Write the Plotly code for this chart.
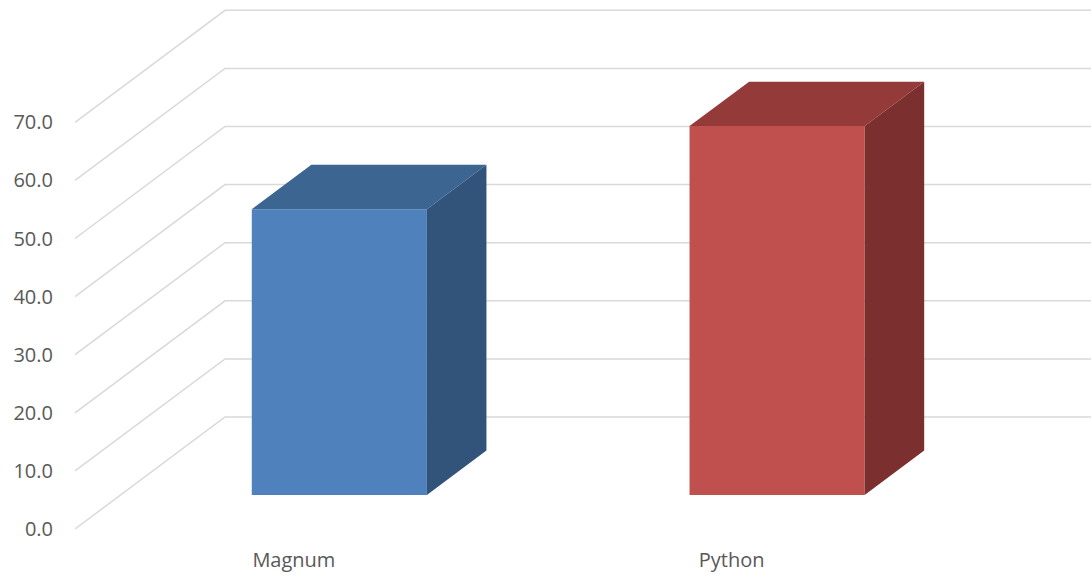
import plotly.graph_objects as go

# Data
categories = ["Magnum", "Python"]
values = [49.2, 63.5]
y_ticks = [0, 10, 20, 30, 40, 50, 60, 70]

# Styling
front_colors = ["#4F81BD", "#C0504D"]
top_colors = ["#3D6591", "#943B39"]
side_colors = ["#32537A", "#7B302F"]
grid_color = "#D9D9D9"
text_color = "#595959"

# Oblique 3-D projection: full floor depth shifts x by DEPTH_X (category units)
# and y by DEPTH_Y (value units).
DEPTH_X = 0.3427
DEPTH_Y = 19.28
BAR_FRONT = 0.303   # depth fraction of bar front face
BAR_BACK = 0.70     # depth fraction of bar back face
BAR_HALF = 0.2      # half bar width (gap width 150%)
X_FAR = 3.0         # back-wall lines run off the right edge


def proj(x, y, d):
    return x + d * DEPTH_X, y + d * DEPTH_Y


fig = go.Figure()

# Side wall + back wall gridlines
for v in y_ticks:
    p0 = proj(-0.5, v, 0)
    p1 = proj(-0.5, v, 1)
    fig.add_trace(go.Scatter(
        x=[p0[0], p1[0], X_FAR], y=[p0[1], p1[1], p1[1]],
        mode="lines", line=dict(color=grid_color, width=1.5),
        hoverinfo="skip", showlegend=False))


def face(pts, color, name):
    xs = [p[0] for p in pts] + [pts[0][0]]
    ys = [p[1] for p in pts] + [pts[0][1]]
    fig.add_trace(go.Scatter(
        x=xs, y=ys, mode="lines", fill="toself", fillcolor=color,
        line=dict(width=0, color=color), name=name,
        hoverinfo="name", showlegend=False))


for i, (cat, v) in enumerate(zip(categories, values)):
    xl, xr = i - BAR_HALF, i + BAR_HALF
    fbl = proj(xl, 0, BAR_FRONT)
    fbr = proj(xr, 0, BAR_FRONT)
    ftl = proj(xl, v, BAR_FRONT)
    ftr = proj(xr, v, BAR_FRONT)
    btl = proj(xl, v, BAR_BACK)
    btr = proj(xr, v, BAR_BACK)
    bbr = proj(xr, 0, BAR_BACK)
    face([fbl, fbr, ftr, ftl], front_colors[i], cat)
    face([ftl, ftr, btr, btl], top_colors[i], cat)
    face([fbr, bbr, btr, ftr], side_colors[i], cat)

# Axis ranges chosen so that 0..70 fills the front of the floor
PX_PER_UNIT_Y = 5.81
PX_PER_UNIT_X = 437.75
ZERO_PX = 529       # screen row of the value 0 on the front edge
FLOOR_LEFT_PX = 75  # screen column of the floor's front-left corner
W, H = 1091, 575
ML, MB = 54, 35
plot_h = H - MB
y_bottom = (ZERO_PX - plot_h) / PX_PER_UNIT_Y
y_top = ZERO_PX / PX_PER_UNIT_Y
x_left = -0.5 - (FLOOR_LEFT_PX - ML) / PX_PER_UNIT_X
x_right = -0.5 + (W - FLOOR_LEFT_PX) / PX_PER_UNIT_X

fig.update_layout(
    width=W, height=H,
    margin=dict(l=ML, r=0, t=0, b=MB),
    paper_bgcolor="white", plot_bgcolor="white",
    font=dict(family="Open Sans", size=20, color=text_color),
    xaxis=dict(range=[x_left, x_right], tickvals=[0, 1], ticktext=categories,
               showgrid=False, zeroline=False, showline=False,
               ticks="outside", ticklen=2, tickcolor="rgba(0,0,0,0)",
               fixedrange=True),
    yaxis=dict(range=[y_bottom, y_top], tickvals=y_ticks, tickformat=".1f",
               showgrid=False, zeroline=False, showline=False, ticks="",
               fixedrange=True),
)

fig.write_html("out.html")
